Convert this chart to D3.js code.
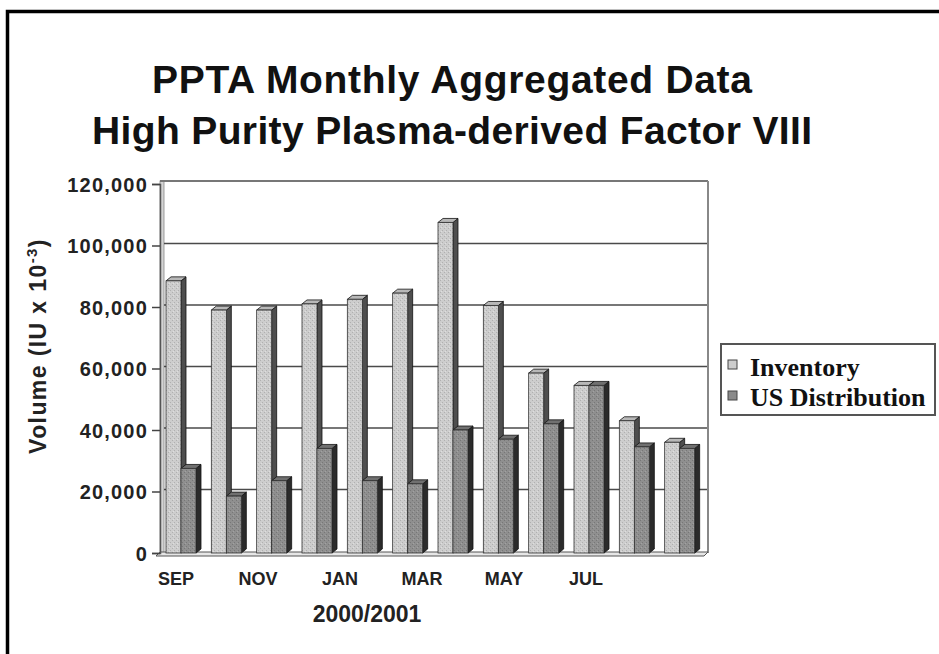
<!DOCTYPE html>
<html>
<head>
<meta charset="utf-8">
<script src="https://cdn.jsdelivr.net/npm/d3@7"></script>
<style>
  html, body { margin: 0; padding: 0; background: #fff; }
  svg { display: block; }
</style>
</head>
<body>
<script>
// ---- data ----
const months = ["SEP","OCT","NOV","DEC","JAN","FEB","MAR","APR","MAY","JUN","JUL","AUG"];
const monthLabels = ["SEP","","NOV","","JAN","","MAR","","MAY","","JUL",""];
const inventory = [88500, 79000, 79000, 81000, 82500, 84500, 107500, 80500, 58500, 54500, 43000, 36000];
const usDistribution = [27500, 18500, 23500, 34000, 23500, 22500, 40000, 37000, 42000, 54500, 34500, 34000];
const seriesNames = ["Inventory", "US Distribution"];
const yTicks = [0, 20000, 40000, 60000, 80000, 100000, 120000];
const titleLines = ["PPTA Monthly Aggregated Data", "High Purity Plasma-derived Factor VIII"];
const xTitle = "2000/2001";

// ---- layout ----
const W = 939, H = 654;
const plotL = 160, plotR = 708, plotT = 181, plotB = 553;
const depthX = 5, depthY = 4;

const svg = d3.select("body").append("svg").attr("width", W).attr("height", H);

const defs = svg.append("defs");
function stipple(id, base, dot, dot2) {
  const p = defs.append("pattern").attr("id", id).attr("width", 4).attr("height", 4)
    .attr("patternUnits", "userSpaceOnUse");
  p.append("rect").attr("width", 4).attr("height", 4).attr("fill", base);
  p.append("rect").attr("x", 0).attr("y", 0).attr("width", 1).attr("height", 1).attr("fill", dot);
  p.append("rect").attr("x", 2).attr("y", 2).attr("width", 1).attr("height", 1).attr("fill", dot);
  p.append("rect").attr("x", 1).attr("y", 3).attr("width", 1).attr("height", 1).attr("fill", dot2);
}
stipple("invPat", "#cdcdcd", "#b0b0b0", "#dedede");
stipple("usPat", "#8f8f8f", "#777", "#a2a2a2");

// outer frame
svg.append("rect").attr("x", 7.5).attr("y", 11.5).attr("width", 1200).attr("height", 1200)
  .attr("fill", "none").attr("stroke", "#000").attr("stroke-width", 3.5);

// titles
const titleY = [93, 144];
const titleW = [600, 720];
titleLines.forEach((t, i) => {
  svg.append("text").attr("x", 452).attr("y", titleY[i])
    .attr("text-anchor", "middle")
    .attr("font-family", "Liberation Sans, Arial, sans-serif")
    .attr("font-weight", "bold").attr("font-size", 39)
    .attr("textLength", titleW[i]).attr("lengthAdjust", "spacing")
    .attr("fill", "#111").text(t);
});

// scales
const y = d3.scaleLinear().domain([0, 120000]).range([plotB, 184]);
const x = d3.scaleBand().domain(months).range([plotL, 704]);
const xs = d3.scaleBand().domain(seriesNames).range([6, 36]);
const xl = d3.scaleBand().domain(months).range([155.5, 647.5]);

// left wall
svg.append("rect").attr("x", plotL).attr("y", plotT).attr("width", 4).attr("height", plotB - plotT)
  .attr("fill", "#d4d4d4").attr("stroke", "#888").attr("stroke-width", 0.8);

// gridlines
svg.append("g").selectAll("line").data(yTicks.filter(d => d > 0 && d < 120000)).join("line")
  .attr("x1", plotL + 4).attr("x2", plotR)
  .attr("y1", d => y(d) - 2).attr("y2", d => y(d) - 2)
  .attr("stroke", "#4a4a4a").attr("stroke-width", 1.6);

// top & right frame of plot
svg.append("line").attr("x1", plotL).attr("x2", plotR).attr("y1", plotT).attr("y2", plotT)
  .attr("stroke", "#777").attr("stroke-width", 2);
svg.append("line").attr("x1", plotR).attr("x2", plotR).attr("y1", plotT).attr("y2", plotB)
  .attr("stroke", "#888").attr("stroke-width", 2);

// floor
svg.append("polygon")
  .attr("points", [[plotL - 4, plotB + 3], [plotR - 4, plotB + 3], [plotR, plotB - 1], [plotL, plotB - 1]].map(p => p.join(",")).join(" "))
  .attr("fill", "#e6e6e6").attr("stroke", "#555").attr("stroke-width", 1);

// y axis
const yAxis = d3.axisLeft(y).tickValues(yTicks).tickFormat(d3.format(",")).tickSize(8).tickPadding(4);
const ga = svg.append("g").attr("transform", `translate(${plotL},0)`).call(yAxis);
ga.select(".domain").attr("stroke", "#555").attr("stroke-width", 1.5);
ga.selectAll(".tick line").attr("stroke", "#444").attr("stroke-width", 1.5);
ga.selectAll(".tick text").attr("font-family", "Liberation Sans, Arial, sans-serif")
  .attr("font-weight", "bold").attr("font-size", 20).attr("fill", "#222")
  .attr("letter-spacing", 1.2).attr("x", -12).attr("dy", "0.36em");

// bars
const series = [
  { name: seriesNames[0], values: inventory, front: "url(#invPat)", side: "#4e4e4e", top: "#b8b8b8" },
  { name: seriesNames[1], values: usDistribution, front: "url(#usPat)", side: "#2b2b2b", top: "#707070" }
];
const bw = xs.bandwidth();
const gb = svg.append("g");
months.forEach((m, i) => {
  series.forEach(s => {
    const v = s.values[i];
    const x0 = x(m) + xs(s.name), x1 = x0 + bw;
    const yt = y(v), yb = y(0);
    const g = gb.append("g");
    g.append("polygon")
      .attr("points", [[x1, yb], [x1, yt], [x1 + depthX, yt - depthY], [x1 + depthX, yb - depthY]].map(p => p.join(",")).join(" "))
      .attr("fill", s.side).attr("stroke", "#111").attr("stroke-width", 0.8);
    g.append("polygon")
      .attr("points", [[x0, yt], [x1, yt], [x1 + depthX, yt - depthY], [x0 + depthX, yt - depthY]].map(p => p.join(",")).join(" "))
      .attr("fill", s.top).attr("stroke", "#111").attr("stroke-width", 0.8);
    g.append("rect").attr("x", x0).attr("y", yt).attr("width", bw).attr("height", yb - yt)
      .attr("fill", s.front).attr("stroke", "#333").attr("stroke-width", 0.8);
  });
});

// x labels
svg.append("g").selectAll("text").data(months).join("text")
  .attr("x", d => xl(d) + xl.bandwidth() / 2).attr("y", 585)
  .attr("text-anchor", "middle")
  .attr("font-family", "Liberation Sans, Arial, sans-serif")
  .attr("font-weight", "bold").attr("font-size", 18).attr("fill", "#222")
  .text((d, i) => monthLabels[i]);

svg.append("text").attr("x", 367).attr("y", 622).attr("text-anchor", "middle")
  .attr("font-family", "Liberation Sans, Arial, sans-serif")
  .attr("font-weight", "bold").attr("font-size", 23).attr("fill", "#222")
  .text(xTitle);

// y title
const yt = svg.append("text").attr("transform", "translate(46,346) rotate(-90)")
  .attr("text-anchor", "middle")
  .attr("font-family", "Liberation Sans, Arial, sans-serif")
  .attr("font-weight", "bold").attr("font-size", 23).attr("fill", "#222")
  .attr("letter-spacing", 1.4);
yt.append("tspan").text("Volume (IU x 10");
yt.append("tspan").attr("font-size", 15).attr("dy", -9).text("-3");
yt.append("tspan").attr("dy", 9).text(")");

// legend
const lg = svg.append("g");
lg.append("rect").attr("x", 721).attr("y", 344).attr("width", 214).attr("height", 71)
  .attr("fill", "#fff").attr("stroke", "#555").attr("stroke-width", 2);
const legendFill = ["#cdcdcd", "#8a8a8a"];
seriesNames.forEach((n, i) => {
  lg.append("rect").attr("x", 728).attr("y", 360 + i * 31).attr("width", 9).attr("height", 9)
    .attr("fill", legendFill[i]).attr("stroke", "#444").attr("stroke-width", 1);
  lg.append("text").attr("x", 750).attr("y", 376 + i * 30)
    .attr("font-family", "Liberation Serif, Times New Roman, serif")
    .attr("font-weight", "bold").attr("font-size", 26).attr("fill", "#111")
    .text(n);
});
</script>
</body>
</html>
